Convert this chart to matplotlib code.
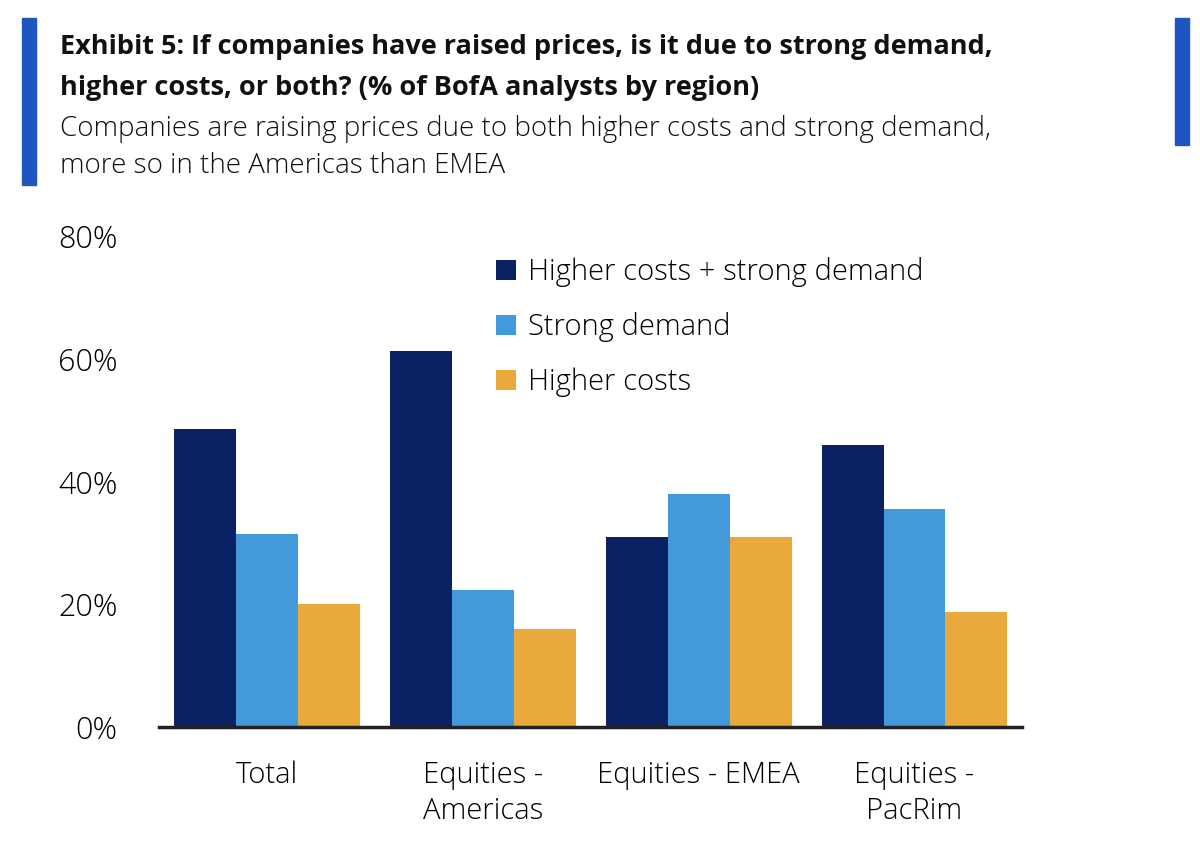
import numpy as np
import matplotlib.pyplot as plt
from matplotlib.patches import Rectangle

categories = ["Total", "Equities -\nAmericas", "Equities - EMEA", "Equities -\nPacRim"]
series_names = ["Higher costs + strong demand", "Strong demand", "Higher costs"]
both = [48.5, 61.2, 31.0, 46.0]
demand = [31.5, 22.4, 38.0, 35.5]
costs = [20.1, 16.0, 31.0, 18.8]
yticks = [0, 20, 40, 60, 80]

colors = ["#0A2263", "#4399D9", "#E8A93A"]

plt.rcParams['font.family'] = ['Open Sans', 'DejaVu Sans']

fig = plt.figure(figsize=(12, 8.63), dpi=100)
ax = fig.add_axes([0.1325, 0.1576, 0.852 - 0.1325, 0.7265 - 0.1576])

x = np.arange(len(categories))
w = 0.287
for i, vals in enumerate([both, demand, costs]):
    ax.bar(x + (i - 1) * w, vals, w, color=colors[i], label=series_names[i], zorder=2)

ax.set_xlim(-0.5, 3.5)
ax.set_ylim(0, 80)
ax.set_yticks(yticks)
ax.set_yticklabels([f"{t}%" for t in yticks], fontsize=22, fontweight='light')
ax.set_xticks(x)
ax.set_xticklabels(categories, fontsize=21, fontweight='light', linespacing=1.3)
ax.tick_params(axis='both', length=0)
ax.tick_params(axis='y', pad=30)
ax.tick_params(axis='x', pad=24)
for s in ['top', 'right', 'left']:
    ax.spines[s].set_visible(False)
ax.spines['bottom'].set_linewidth(2.5)
ax.spines['bottom'].set_color('#222222')
ax.spines['bottom'].set_zorder(3)

leg = ax.legend(loc='upper left', bbox_to_anchor=(0.36, 1.01), frameon=False,
                handlelength=0.7, handleheight=0.7, handletextpad=0.4,
                labelspacing=0.86, prop={'size': 21, 'weight': 'light'})

# title block
fig.text(0.05, 0.945, "Exhibit 5: If companies have raised prices, is it due to strong demand,",
         fontsize=19.5, fontweight='bold', va='center', ha='left', color='#111111')
fig.text(0.05, 0.898, "higher costs, or both? (% of BofA analysts by region)",
         fontsize=19.5, fontweight='bold', va='center', ha='left', color='#111111')
fig.text(0.05, 0.851, "Companies are raising prices due to both higher costs and strong demand,",
         fontsize=20, fontweight='light', va='center', ha='left', color='#111111')
fig.text(0.05, 0.808, "more so in the Americas than EMEA",
         fontsize=20, fontweight='light', va='center', ha='left', color='#111111')

fig.patches.append(Rectangle((0.018, 1 - 185 / 863), 0.012, (185 - 18) / 863,
                             transform=fig.transFigure, color='#1F55C0'))
fig.patches.append(Rectangle((0.979, 1 - 145 / 863), 0.012, (145 - 18) / 863,
                             transform=fig.transFigure, color='#1F55C0'))

fig.savefig("out.png", dpi=100)
